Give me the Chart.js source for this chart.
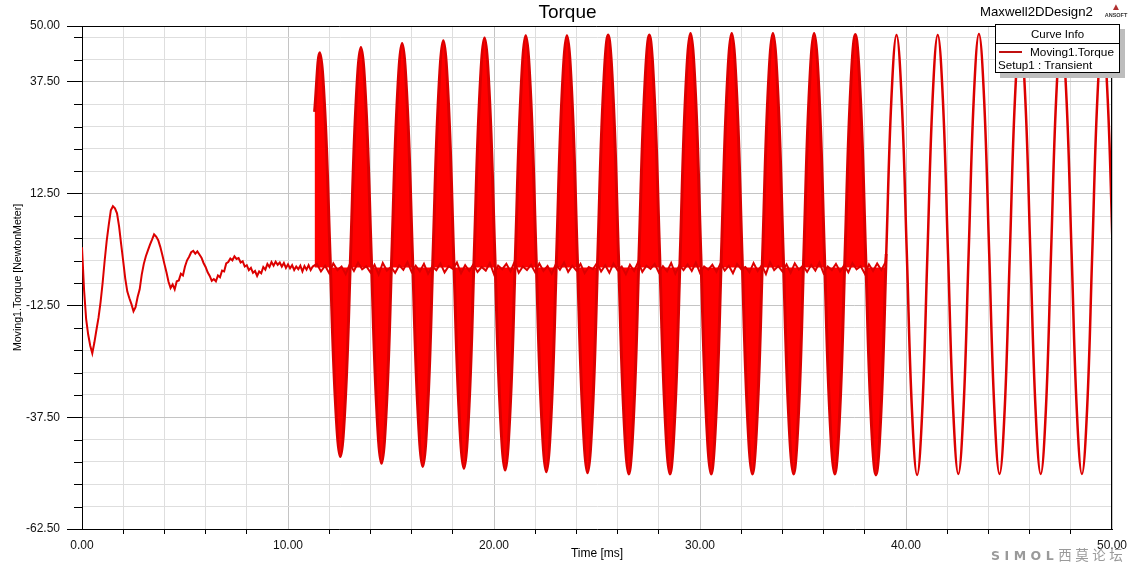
<!DOCTYPE html>
<html>
<head>
<meta charset="utf-8">
<title>Torque</title>
<script src="https://cdn.jsdelivr.net/npm/chart.js@4.4.1/dist/chart.umd.min.js"></script>
<style>
  body { margin: 0; background: #fff; font-family: "Liberation Sans", Arial, sans-serif; }
  #wrap { position: relative; width: 1135px; height: 567px; overflow: hidden; }
  #torqueChart { position: absolute; left: 0; top: 0; }
  .plotTitle { position: absolute; left: 0; width: 1135px; top: 1px; text-align: center; font-size: 19px; color: #000; }
  .design { position: absolute; left: 980px; top: 4px; font-size: 13.2px; color: #000; }
  .ansoft { position: absolute; left: 1101px; top: 2px; width: 30px; text-align: center; color: #b03030; }
  .ansoft .mark { font-size: 10px; line-height: 10px; }
  .ansoft .word { font-size: 5.5px; font-weight: bold; color: #333; line-height: 7px; }
  .legend { position: absolute; left: 995px; top: 24px; width: 123px; height: 47px; border: 1px solid #000;
            background: #fff; box-shadow: 5px 5px 0 #bdbdbd; font-size: 11.8px; color: #000; }
  .legend .head { height: 18px; line-height: 18px; text-align: center; border-bottom: 1px solid #000; font-size: 11.5px; }
  .legend .row { position: relative; height: 14px; }
  .legend .swatch { position: absolute; left: 3px; top: 7px; width: 23px; height: 2px; background: #c01010; }
  .legend .name { position: absolute; left: 34px; top: 1px; }
  .legend .setup { position: absolute; left: 2px; top: 33px; font-size: 11.6px; }
  .watermark { position: absolute; left: 991px; top: 544px; color: #9a9a9a; font-size: 13.5px; white-space: nowrap; }
  .watermark b { letter-spacing: 4.5px; font-family: "DejaVu Sans", sans-serif; font-size: 12.5px; }
  .watermark span { font-family: "Noto Sans CJK SC", sans-serif; letter-spacing: 3.5px; }
</style>
</head>
<body>
<div id="wrap">
  <canvas id="torqueChart" width="1135" height="567"></canvas>
  <div class="plotTitle">Torque</div>
  <div class="design">Maxwell2DDesign2</div>
  <div class="ansoft"><div class="mark">&#9650;</div><div class="word">ANSOFT</div></div>
  <div class="legend">
    <div class="head">Curve Info</div>
    <div class="row"><div class="swatch"></div><div class="name">Moving1.Torque</div></div>
    <div class="setup">Setup1 : Transient</div>
  </div>
  <div class="watermark"><b>SIMOL</b><span>西莫论坛</span></div>
</div>

<script>
// ---- axis ticks ----
const xTickValues = [0, 2, 4, 6, 8, 10, 12, 14, 16, 18, 20, 22, 24, 26, 28, 30, 32, 34, 36, 38, 40, 42, 44, 46, 48, 50];
const xLabelValues = [0, 10, 20, 30, 40, 50];
const yTickValues = [-62.5, -57.5, -52.5, -47.5, -42.5, -37.5, -32.5, -27.5, -22.5, -17.5, -12.5, -7.5, -2.5,
                     2.5, 7.5, 12.5, 17.5, 22.5, 27.5, 32.5, 37.5, 42.5, 47.5, 50];
const yLabelValues = [-62.5, -37.5, -12.5, 12.5, 37.5, 50];

// ---- Moving1.Torque, start-up transient 0 .. 11.2 ms (0.1 ms samples) ----
const settleStart = 0;
const settleStep = 0.1;
const settleTorque = [
  0.5, -9.0, -15.5, -19.0, -21.5, -23.2, -20.8, -18.0, -15.3, -11.8,
  -7.5, -2.5, 2.0, 5.6, 8.8, 9.7, 9.2, 8.1, 5.2, 1.2,
  -2.6, -6.5, -9.4, -10.9, -12.2, -13.8, -12.9, -10.6, -8.9, -5.6,
  -3.2, -1.5, -0.2, 1.1, 2.2, 3.4, 2.9, 2.1, 0.6, -1.2,
  -3.2, -5.1, -7.2, -8.6, -7.8, -8.9, -7.1, -6.9, -5.4, -5.8,
  -3.8, -2.4, -1.6, -0.6, -0.3, -0.9, -0.4, -1.1, -1.8, -3.0,
  -3.9, -5.1, -5.9, -7.0, -6.6, -7.1, -5.8, -6.2, -4.7, -4.9,
  -3.1, -2.8, -2.0, -2.4, -1.5, -2.1, -1.9, -2.9, -2.6, -3.8,
  -3.5, -4.6, -4.1, -5.2, -4.8, -5.9, -4.9, -5.3, -3.9, -4.5,
  -3.2, -3.9, -2.8, -3.6, -2.7, -3.4, -2.9, -3.8, -3.0, -4.1,
  -3.3, -4.2, -3.5, -4.6, -3.8, -4.4, -3.6, -4.9, -3.7, -4.5,
  -3.5, -4.6, -3.8
];

// ---- baseline ripple between the pulses, 11.4 .. 39.0 ms (0.2 ms samples) ----
const rippleStart = 11.4;
const rippleStep = 0.2;
const rippleTorque = [
  -3.2, -4.9, -3.6, -5.3, -3.1, -4.6, -3.8, -5.5, -3.3, -4.8,
  -2.9, -4.4, -3.7, -5.1, -3.4, -5.6, -3.0, -4.7, -3.9, -5.2,
  -3.5, -4.5, -2.8, -5.0, -3.6, -4.9, -3.2, -5.4, -3.8, -4.6,
  -3.1, -5.1, -3.7, -4.3, -2.9, -5.3, -3.5, -4.8, -3.3, -5.0,
  -3.9, -4.7, -3.0, -5.5, -3.6, -4.4, -3.2, -4.9, -2.7, -5.2,
  -3.8, -4.6, -3.4, -5.1, -3.1, -4.8, -3.7, -5.4, -3.3, -4.5,
  -2.9, -5.0, -3.6, -4.7, -3.2, -5.3, -3.9, -4.4, -3.0, -4.9,
  -3.5, -5.2, -3.1, -4.6, -3.8, -5.5, -3.4, -4.8, -2.8, -5.0,
  -3.6, -4.3, -3.2, -5.1, -3.7, -4.9, -3.0, -5.4, -3.5, -4.6,
  -3.3, -4.8, -2.9, -5.2, -3.8, -4.5, -3.4, -5.0, -3.1, -4.7,
  -3.6, -5.3, -3.2, -4.4, -3.9, -5.1, -3.0, -4.8, -3.5, -5.5,
  -2.8, -4.6, -3.7, -4.9, -3.3, -5.2, -3.1, -4.5, -3.6, -5.0,
  -3.4, -4.7, -2.9, -5.3, -3.8, -4.6, -3.2, -4.9, -3.5, -5.1,
  -3.0, -4.4, -3.7, -5.4, -3.3, -4.8, -3.1, -4.6, -2.9
];

// ---- envelope of the chopped pulses, 11.29 .. 39.04 ms (0.25 ms samples) ----
const pulseStart = 11.29;
const pulseStep = 0.25;
const pulseEnvelope = [
  30.8, 44.0, 30.8, -1.0, -33.0, -46.3, -33.0, -1.0,
  31.7, 45.2, 31.7, -1.0, -34.1, -47.8, -34.1, -1.0,
  32.3, 46.1, 32.3, -1.0, -34.6, -48.5, -34.6, -1.0,
  32.7, 46.7, 32.7, -1.0, -34.9, -48.9, -34.9, -1.0,
  33.1, 47.3, 33.1, -1.0, -35.1, -49.3, -35.1, -1.0,
  33.5, 47.8, 33.5, -1.0, -35.4, -49.7, -35.4, -1.0,
  33.5, 47.8, 33.5, -1.0, -35.6, -49.9, -35.6, -1.0,
  33.6, 48.0, 33.6, -1.0, -35.8, -50.2, -35.8, -1.0,
  33.6, 48.0, 33.6, -1.0, -35.8, -50.2, -35.8, -1.0,
  33.9, 48.3, 33.9, -1.0, -35.8, -50.2, -35.8, -1.0,
  33.9, 48.3, 33.9, -1.0, -35.8, -50.2, -35.8, -1.0,
  33.9, 48.3, 33.9, -1.0, -35.8, -50.2, -35.8, -1.0,
  33.9, 48.3, 33.9, -1.0, -35.8, -50.2, -35.8, -1.0,
  33.7, 48.1, 33.7, -1.0, -35.9, -50.4, -35.9, -1.0
];
const pulseBase = -4;

// ---- clean sinusoid after 39 ms (0.25 ms samples) ----
const tailStart = 39.04;
const tailStep = 0.25;
const tailTorque = [
  -1.0, 33.6, 48.0, 33.6, -1.0, -36.0, -50.4, -36.0,
  -1.0, 33.6, 48.0, 33.6, -1.0, -35.8, -50.2, -35.8,
  -1.0, 33.8, 48.2, 33.8, -1.0, -35.8, -50.2, -35.8,
  -1.0, 33.8, 48.2, 33.8, -1.0, -35.8, -50.2, -35.8,
  -1.0, 33.8, 48.2, 33.8, -1.0, -35.8, -50.2, -35.8,
  -1.0, 33.8, 48.2, 33.8, -1.0
];

const LINE_RED = "#dc0000";
const FILL_RED = "#ff0000";
const GRID_MINOR = "#dedede";
const GRID_MAJOR = "#c4c4c4";

Chart.defaults.font.family = '"Liberation Sans", Arial, sans-serif';
Chart.defaults.color = "#111";

// sample index -> {x, y} on the time axis
function toPoints(start, step, values) {
  return values.map((v, i) => ({ x: +(start + i * step).toFixed(3), y: v }));
}

const tracePoints = toPoints(settleStart, settleStep, settleTorque)
  .concat(toPoints(rippleStart, rippleStep, rippleTorque))
  .concat(toPoints(tailStart, tailStep, tailTorque).slice(0, 1));
const tailPoints = toPoints(tailStart, tailStep, tailTorque);
const envelopePoints = toPoints(pulseStart, pulseStep, pulseEnvelope);

// frame on top/right + the short minor tick marks on the y axis
const framePlugin = {
  id: "frame",
  afterDraw(chart) {
    const { ctx, chartArea: a } = chart;
    const yScale = chart.scales.y;
    ctx.save();
    ctx.strokeStyle = "#000";
    ctx.lineWidth = 1;
    ctx.beginPath();
    const top = Math.round(a.top) + 0.5;
    const right = Math.round(a.right) - 0.5;
    ctx.moveTo(a.left, top);
    ctx.lineTo(right, top);
    ctx.lineTo(right, a.bottom);
    yTickValues.forEach(v => {
      if (yLabelValues.includes(v)) return;
      const py = Math.round(yScale.getPixelForValue(v)) + 0.5;
      ctx.moveTo(a.left - 8, py);
      ctx.lineTo(a.left, py);
    });
    ctx.stroke();
    ctx.restore();
  }
};

new Chart(document.getElementById("torqueChart"), {
  type: "line",
  data: {
    datasets: [
      {
        label: "Moving1.Torque",
        data: tracePoints,
        borderColor: LINE_RED,
        borderWidth: 2,
        pointRadius: 0,
        tension: 0,
        fill: false
      },
      {
        label: "Moving1.Torque (steady)",
        data: tailPoints,
        borderColor: LINE_RED,
        borderWidth: 2.5,
        pointRadius: 0,
        tension: 0.4,
        fill: false
      },
      {
        label: "Moving1.Torque (pulses)",
        data: envelopePoints,
        borderColor: LINE_RED,
        borderWidth: 3,
        backgroundColor: FILL_RED,
        pointRadius: 0,
        tension: 0.4,
        fill: { target: { value: pulseBase }, above: FILL_RED, below: FILL_RED }
      }
    ]
  },
  options: {
    responsive: false,
    animation: false,
    events: [],
    layout: { padding: { top: 26, right: 23, left: 0, bottom: 0 } },
    plugins: {
      legend: { display: false },
      title: { display: false },
      tooltip: { enabled: false }
    },
    scales: {
      x: {
        type: "linear",
        min: 0,
        max: 50,
        afterBuildTicks: scale => { scale.ticks = xTickValues.map(v => ({ value: v })); },
        afterFit: scale => { scale.height = 38; },
        border: { color: "#000", width: 1 },
        grid: {
          color: ctx => xLabelValues.includes(ctx.tick.value) ? GRID_MAJOR : GRID_MINOR,
          tickColor: ctx => xLabelValues.includes(ctx.tick.value) ? "rgba(0,0,0,0)" : "#000",
          tickLength: 5
        },
        ticks: {
          autoSkip: false,
          maxRotation: 0,
          padding: 4,
          font: { size: 12 },
          color: "#111",
          callback: v => xLabelValues.includes(v) ? v.toFixed(2) : ""
        },
        title: {
          display: true,
          text: "Time [ms]",
          font: { size: 12 },
          color: "#000",
          padding: { top: 0, bottom: 6 }
        }
      },
      y: {
        min: -62.5,
        max: 50,
        afterBuildTicks: scale => { scale.ticks = yTickValues.map(v => ({ value: v })); },
        afterFit: scale => { scale.width = 82; },
        border: { color: "#000", width: 1 },
        grid: {
          color: ctx => yLabelValues.includes(ctx.tick.value) ? GRID_MAJOR : GRID_MINOR,
          tickColor: ctx => yLabelValues.includes(ctx.tick.value) ? "#000" : "rgba(0,0,0,0)",
          tickLength: 15
        },
        ticks: {
          autoSkip: false,
          padding: 7,
          font: { size: 12 },
          color: "#111",
          callback: v => yLabelValues.includes(v) ? v.toFixed(2) : ""
        },
        title: {
          display: true,
          text: "Moving1.Torque [NewtonMeter]",
          font: { size: 10.6 },
          color: "#000",
          padding: { top: 12, bottom: 0 }
        }
      }
    }
  },
  plugins: [framePlugin]
});
</script>
</body>
</html>
